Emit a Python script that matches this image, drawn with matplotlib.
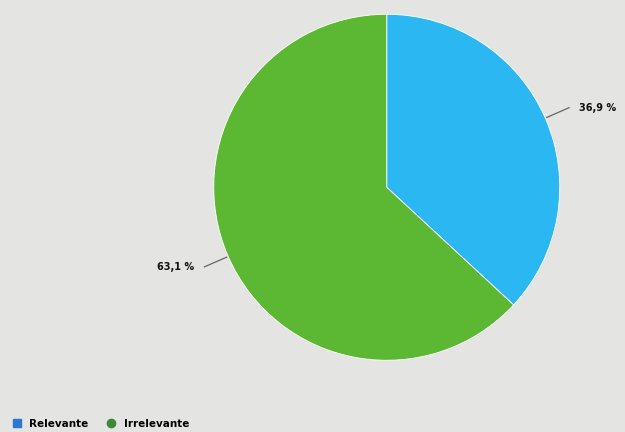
import numpy as np
import matplotlib
matplotlib.use('Agg')
import matplotlib.pyplot as plt
from matplotlib.lines import Line2D

categories = ["Relevante", "Irrelevante"]
values = [36.9, 63.1]
value_labels = ["36,9 %", "63,1 %"]
slice_colors = ["#2bb8f2", "#5cb833"]
legend_colors = ["#2a78d0", "#3d8a35"]
legend_markers = ["s", "o"]

fig = plt.figure(figsize=(6.25, 4.32), dpi=100)
fig.patch.set_facecolor("#e4e4e2")

ax = fig.add_axes([0.342, 0.166, 0.5536, 0.801])
wedges, _ = ax.pie(values, colors=slice_colors, startangle=90, counterclock=False,
                   radius=1.0, wedgeprops=dict(edgecolor="white", linewidth=0.6))
ax.set_xlim(-1, 1)
ax.set_ylim(-1, 1)
ax.set_aspect("equal")
ax.axis("off")

# leader lines and percentage labels
for w, lab in zip(wedges, value_labels):
    ang = np.deg2rad((w.theta1 + w.theta2) / 2)
    x0, y0 = np.cos(ang), np.sin(ang)
    x1, y1 = 1.15 * x0, 1.15 * y0
    side = 1 if x0 > 0 else -1
    ax.plot([x0 * 1.01, x1], [y0 * 1.01, y1], color="#666666", lw=0.9, clip_on=False)
    ax.text(x1 + side * 0.06, y1, lab, ha="left" if side > 0 else "right",
            va="center", fontsize=7, fontweight="bold", color="#111111")

handles = [Line2D([0], [0], marker=m, color="none", markerfacecolor=c,
                  markeredgecolor=c, markersize=6, label=n)
           for n, c, m in zip(categories, legend_colors, legend_markers)]
fig.legend(handles=handles, loc="lower left", bbox_to_anchor=(-0.005, -0.015), ncol=2,
           frameon=False, fontsize=7.5, handletextpad=0.2, columnspacing=1.2,
           prop=dict(weight="bold", size=7.5))

fig.savefig("out.png", dpi=100, facecolor=fig.get_facecolor())
